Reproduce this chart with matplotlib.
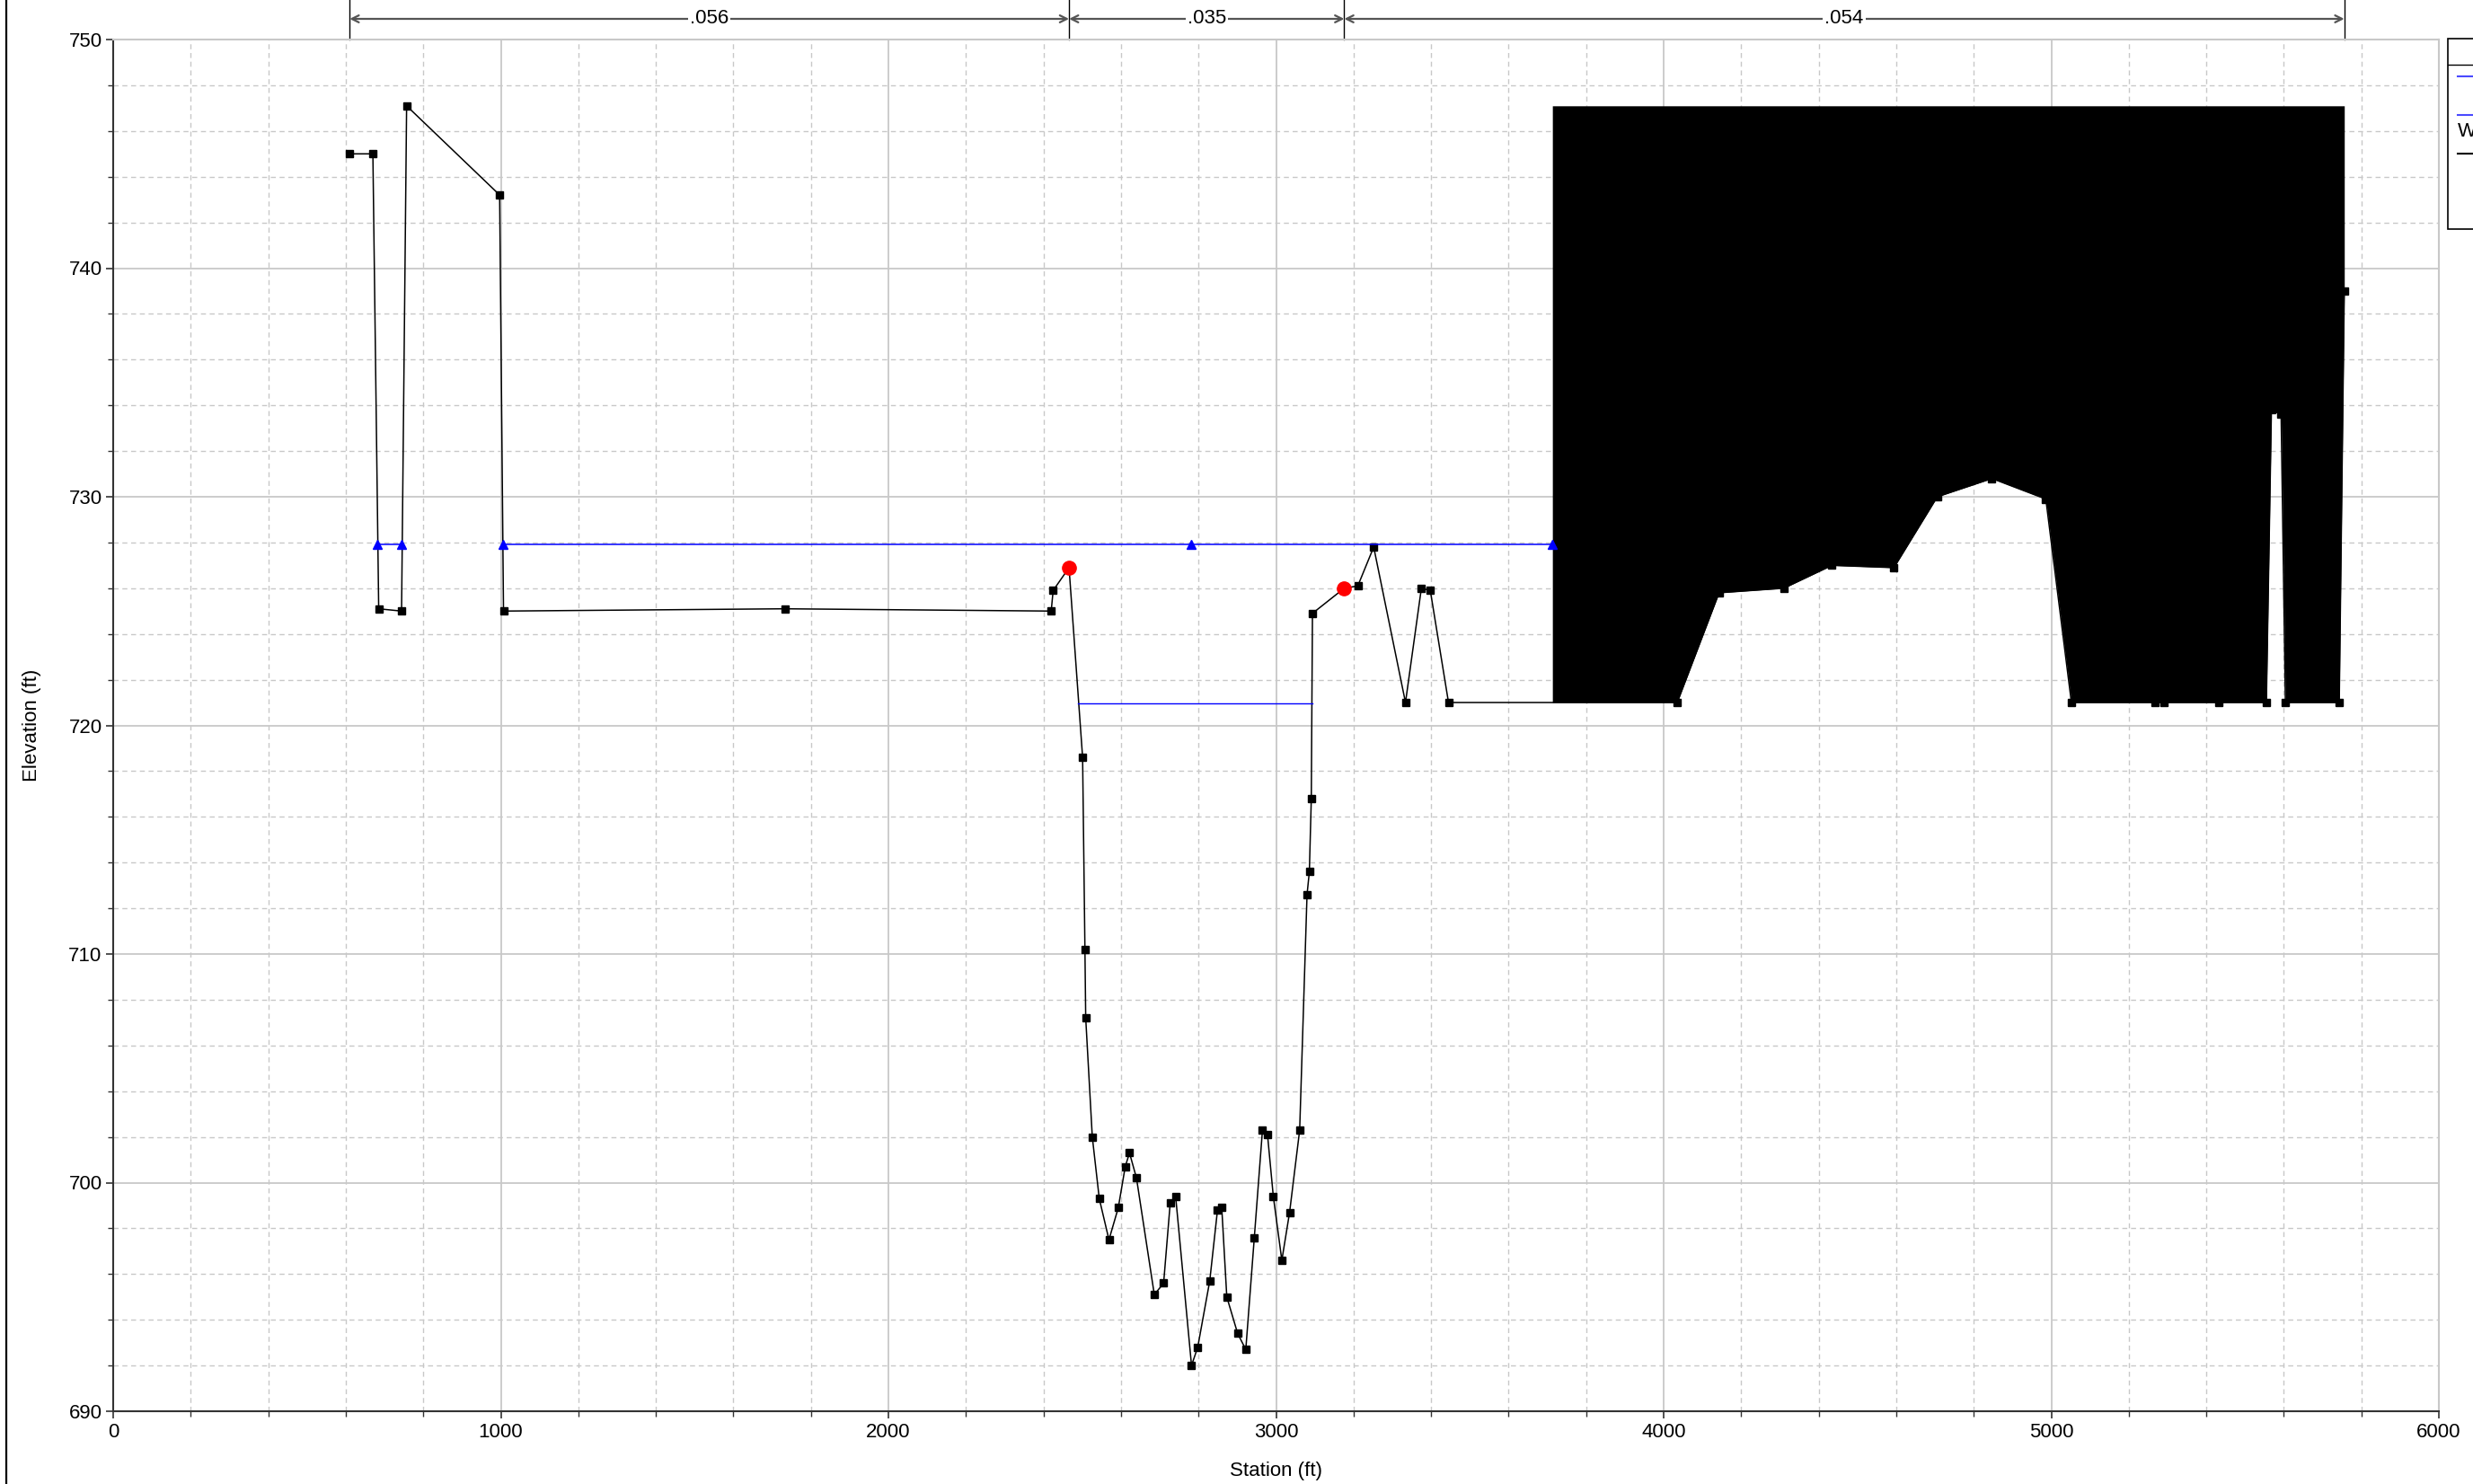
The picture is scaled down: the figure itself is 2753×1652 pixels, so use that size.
import numpy as np
import matplotlib
matplotlib.use('Agg')
import matplotlib.pyplot as plt
from matplotlib.lines import Line2D
from matplotlib.patches import Rectangle

plt.rcParams['font.family'] = ['Liberation Sans', 'DejaVu Sans']

# Ground profile (station ft, elevation ft)
ground_sta = [610, 670, 685, 744, 757, 997, 1007, 1733, 2420, 2425, 2466, 2501, 2507, 2509,
              2526, 2544, 2569, 2593, 2611, 2622, 2640, 2686, 2710, 2727, 2741, 2782, 2798,
              2829, 2849, 2860, 2873, 2901, 2922, 2944, 2965, 2978, 2993, 3015, 3035, 3061,
              3080, 3086, 3091, 3094, 3176, 3211, 3252, 3334, 3375, 3398, 3445, 4035, 4143,
              4310, 4434, 4594, 4706, 4847, 4986, 5052, 5268, 5291, 5433, 5555, 5568, 5593,
              5604, 5743, 5756]
ground_elev = [745.0, 745.0, 725.1, 725.0, 747.1, 743.2, 725.0, 725.1, 725.0, 725.9, 726.9, 718.6,
               710.2, 707.2, 702.0, 699.3, 697.5, 698.9, 700.7, 701.3, 700.2, 695.1, 695.6, 699.1,
               699.4, 692.0, 692.8, 695.7, 698.8, 698.9, 695.0, 693.4, 692.7, 697.6, 702.3, 702.1,
               699.4, 696.6, 698.7, 702.3, 712.6, 713.6, 716.8, 724.9, 726.0, 726.1, 727.8, 721.0,
               726.0, 725.9, 721.0, 721.0, 725.8, 726.0, 727.0, 726.9, 730.0, 730.8, 729.9, 721.0,
               721.0, 721.0, 721.0, 721.0, 733.8, 733.6, 721.0, 721.0, 739.0]

# Water surface
ws_elev = 727.9
ws_left_sta = [682, 745]
ws_main_sta = [1005, 2782, 3713]
channel_ws_sta = [2490, 3094]
channel_ws_elev = 720.96

# Bank stations
bank_sta = [2466, 3176]
bank_elev = [726.9, 726.0]

# Blocked obstruction
block_start, block_end, block_elev = 3713, 5756, 747.1

# Manning's n regions
n_bounds = [610, 2466, 3176, 5756]
n_labels = ['.056', '.035', '.054']

W, H = 2753, 1652
fig = plt.figure(figsize=(W / 100, H / 100), dpi=100)
ax = fig.add_axes([126 / W, 1 - 1571 / H, (2715 - 126) / W, (1571 - 44) / H])

# obstruction fill between ground and obstruction top
bx = [block_start] + [s for s in ground_sta if block_start < s < block_end] + [block_end]
by = np.interp(bx, ground_sta, ground_elev)
ax.fill_between(bx, by, block_elev, color='black', lw=0, zorder=2)

ax.plot(ground_sta, ground_elev, color='black', lw=1.1, marker='s', ms=6.3, zorder=3)
ax.plot(ws_left_sta, [ws_elev] * len(ws_left_sta), color='blue', lw=1.1,
        marker='^', ms=6.5, zorder=4)
ax.plot(ws_main_sta, [ws_elev] * len(ws_main_sta), color='blue', lw=1.1,
        marker='^', ms=6.5, zorder=4)
ax.plot(channel_ws_sta, [channel_ws_elev] * 2, color='blue', lw=1.0, zorder=4)
ax.plot(bank_sta, bank_elev, ls='none', marker='o', color='red', ms=11, zorder=5)

ax.set_xlim(0, 6000)
ax.set_ylim(690, 750)
ax.set_xticks(np.arange(0, 6001, 1000))
ax.set_xticks(np.arange(0, 6001, 200), minor=True)
ax.set_yticks(np.arange(690, 751, 10))
ax.set_yticks(np.arange(690, 751, 2), minor=True)
ax.tick_params(which='both', direction='out', colors='#333333', labelsize=16, labelcolor='black')
ax.tick_params(which='major', length=6, width=1.2, pad=3)
ax.tick_params(which='minor', length=4, width=1.0)
ax.grid(which='major', color='#c8c8c8', lw=1.3, ls='-')
ax.grid(which='minor', color='#c8c8c8', lw=1.0, ls=(0, (4, 3)))
ax.set_axisbelow(True)
for side in ['left', 'bottom']:
    ax.spines[side].set_color('#333333')
    ax.spines[side].set_linewidth(1.5)
for side in ['top', 'right']:
    ax.spines[side].set_color('#c8c8c8')
    ax.spines[side].set_linewidth(1.5)

ax.set_xlabel('Station (ft)', fontsize=16, labelpad=16)
ax.set_ylabel('Elevation (ft)', fontsize=16, labelpad=22)

# Manning's n annotation above the plot
tr = ax.get_xaxis_transform()
y_arrow = 1 + (44 - 21) / (1571 - 44)
y_top = 1 + 44 / (1571 - 44)
for b in n_bounds:
    ax.plot([b, b], [1, y_top], transform=tr, color='black', lw=1.0, clip_on=False)
for i, lab in enumerate(n_labels):
    x0, x1 = n_bounds[i], n_bounds[i + 1]
    ax.annotate('', xy=(x0, y_arrow), xytext=(x1, y_arrow), xycoords=tr, textcoords=tr,
                arrowprops=dict(arrowstyle='<->', color='#555555', lw=1.6,
                                shrinkA=0, shrinkB=0, mutation_scale=14),
                annotation_clip=False)
    ax.text((x0 + x1) / 2, y_arrow, lab, transform=tr, ha='center', va='center', fontsize=16,
            bbox=dict(facecolor='white', edgecolor='none', pad=1.5), clip_on=False)

# left frame line
fig.add_artist(Line2D([7 / W, 7 / W], [0, 1], transform=fig.transFigure, color='black', lw=1.6))

# legend box, mostly beyond the right edge
def fy(p):
    return 1 - p / H

fig.add_artist(Rectangle((2725 / W, fy(255)), 200 / W, (255 - 43) / H, transform=fig.transFigure,
                         facecolor='white', edgecolor='black', lw=1.2))
fig.add_artist(Line2D([2725 / W, 1.1], [fy(72), fy(72)], transform=fig.transFigure,
                      color='black', lw=1.0))
fig.add_artist(Line2D([2736 / W, 2790 / W], [fy(85), fy(85)], transform=fig.transFigure,
                      color='#4a4aff', lw=1.5))
fig.add_artist(Line2D([2736 / W, 2790 / W], [fy(128), fy(128)], transform=fig.transFigure,
                      color='#4a4aff', lw=1.5))
fig.text(2736 / W, fy(147), 'WS PF 1', fontsize=16, ha='left', va='center')
fig.add_artist(Line2D([2736 / W, 2790 / W], [fy(171), fy(171)], transform=fig.transFigure,
                      color='black', lw=1.5))

fig.savefig('out.png', dpi=100)
